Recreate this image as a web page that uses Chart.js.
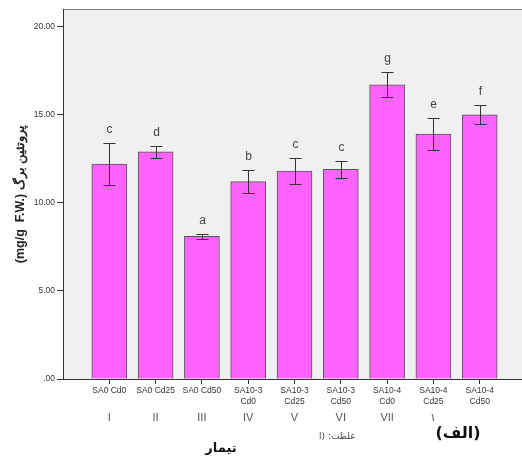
<!DOCTYPE html>
<html>
<head>
<meta charset="utf-8">
<script src="https://cdn.jsdelivr.net/npm/chart.js@4.4.1/dist/chart.umd.min.js"></script>
<style>
  html, body { margin: 0; padding: 0; background: #fff; overflow: hidden; width: 522px; height: 464px; }
  #wrap { width: 522px; height: 464px; overflow: hidden; }
  canvas { display: block; }
</style>
</head>
<body>
<div id="wrap"><canvas id="c" width="540" height="464"></canvas></div>
<script>
// Treatments (salicylic acid x cadmium)
const treatmentLines = [
  ['SA0 Cd0'], ['SA0 Cd25'], ['SA0 Cd50'],
  ['SA10-3', 'Cd0'], ['SA10-3', 'Cd25'], ['SA10-3', 'Cd50'],
  ['SA10-4', 'Cd0'], ['SA10-4', 'Cd25'], ['SA10-4', 'Cd50']
];
const groupNumerals = ['I', 'II', 'III', 'IV', 'V', 'VI', 'VII', '١', ''];

// Leaf protein (mg/g F.W.): means, error half-widths, significance letters
const proteinMeans = [12.2, 12.9, 8.1, 11.2, 11.8, 11.9, 16.7, 13.9, 15.0];
const proteinErr   = [1.2, 0.33, 0.13, 0.67, 0.75, 0.5, 0.72, 0.89, 0.54];
const groupLetters = ['c', 'd', 'a', 'b', 'c', 'c', 'g', 'e', 'f'];

const yTickValues = [0, 5, 10, 15, 20];

Chart.defaults.font.family = '"Liberation Sans", Arial, sans-serif';

const plotBackground = {
  id: 'plotBackground',
  beforeDraw(chart) {
    const { ctx, chartArea: a } = chart;
    ctx.save();
    ctx.fillStyle = '#f0f0f0';
    ctx.fillRect(a.left, a.top, a.right - a.left, a.bottom - a.top);
    ctx.strokeStyle = '#808080';
    ctx.lineWidth = 1;
    ctx.beginPath();
    ctx.moveTo(a.left, a.top + 0.5);
    ctx.lineTo(a.right, a.top + 0.5);
    ctx.stroke();
    ctx.restore();
  }
};

const errorBars = {
  id: 'errorBars',
  afterDatasetsDraw(chart) {
    const { ctx } = chart;
    const xs = chart.scales.x, ys = chart.scales.y;
    ctx.save();
    ctx.strokeStyle = '#333';
    ctx.lineWidth = 1;
    ctx.fillStyle = '#444';
    ctx.font = '12px "Liberation Sans", Arial, sans-serif';
    ctx.textAlign = 'center';
    ctx.textBaseline = 'middle';
    proteinMeans.forEach((m, i) => {
      const x = Math.round(xs.getPixelForValue(i + 1)) + 0.5;
      const yT = Math.round(ys.getPixelForValue(m + proteinErr[i])) + 0.5;
      const yB = Math.round(ys.getPixelForValue(m - proteinErr[i])) + 0.5;
      ctx.beginPath();
      ctx.moveTo(x, yT); ctx.lineTo(x, yB);
      ctx.moveTo(x - 6, yT); ctx.lineTo(x + 6, yT);
      ctx.moveTo(x - 6, yB); ctx.lineTo(x + 6, yB);
      ctx.stroke();
      ctx.fillText(groupLetters[i], x, yT - 14);
    });
    ctx.restore();
  }
};

const footerTexts = {
  id: 'footerTexts',
  afterDraw(chart) {
    const { ctx } = chart;
    ctx.save();
    ctx.textAlign = 'center';
    ctx.textBaseline = 'middle';
    ctx.fillStyle = '#111';
    ctx.font = 'bold 13px "DejaVu Sans", "Noto Sans", sans-serif';
    ctx.direction = 'rtl';
    ctx.fillText('تیمار', 221, 449);
    ctx.font = 'bold 16px "DejaVu Sans", "Noto Sans", sans-serif';
    ctx.fillText('(الف)', 458, 434);
    ctx.fillStyle = '#444';
    ctx.font = '9px "DejaVu Sans", "Noto Sans", sans-serif';
    ctx.fillText('غلظت: (ا', 337, 437);
    ctx.restore();
  }
};

new Chart(document.getElementById('c'), {
  type: 'bar',
  data: {
    datasets: [{
      data: proteinMeans.map((v, i) => ({ x: i + 1, y: v })),
      backgroundColor: '#ff63ff',
      borderColor: '#555',
      borderWidth: 1,
      barThickness: 35
    }]
  },
  options: {
    responsive: false,
    animation: false,
    devicePixelRatio: 1,
    layout: { padding: { left: 0, top: 9, right: 14, bottom: 20 } },
    plugins: { legend: { display: false }, tooltip: { enabled: false } },
    scales: {
      x: {
        type: 'linear', min: 0, max: 10, offset: false, position: 'bottom',
        afterBuildTicks: s => { s.ticks = treatmentLines.map((_, i) => ({ value: i + 1 })); },
        afterFit: s => { s.height = 29; },
        ticks: {
          autoSkip: false, maxRotation: 0, minRotation: 0,
          font: { size: 8.5 }, color: '#333', padding: 2,
          callback: v => treatmentLines[v - 1]
        },
        grid: { drawOnChartArea: false, drawTicks: true, tickLength: 5, color: '#333', offset: false },
        border: { display: true, color: '#333', width: 1 }
      },
      x2: {
        type: 'linear', min: 0, max: 10, offset: false, position: 'bottom',
        afterBuildTicks: s => { s.ticks = groupNumerals.map((_, i) => ({ value: i + 1 })); },
        afterFit: s => { s.height = 36; },
        ticks: {
          autoSkip: false, maxRotation: 0, minRotation: 0,
          font: { size: 11 }, color: '#555', padding: 3,
          callback: v => groupNumerals[v - 1]
        },
        grid: { display: false, drawTicks: false },
        border: { display: false }
      },
      y: {
        min: 0, max: 21,
        afterBuildTicks: s => { s.ticks = yTickValues.map(v => ({ value: v })); },
        afterFit: s => { s.width = 63; },
        ticks: {
          font: { size: 8.5 }, color: '#333', padding: 2,
          callback: v => (v === 0 ? '.00' : v.toFixed(2))
        },
        grid: { drawOnChartArea: false, drawTicks: true, tickLength: 6, color: '#333' },
        border: { display: true, color: '#333', width: 1 },
        title: {
          display: true, text: '(mg/g  F.W.) پروتئین برگ',
          font: { size: 12.5, weight: 'bold' }, color: '#222', padding: { top: 13, bottom: 0 }
        }
      }
    }
  },
  plugins: [plotBackground, errorBars, footerTexts]
});
</script>
</body>
</html>
